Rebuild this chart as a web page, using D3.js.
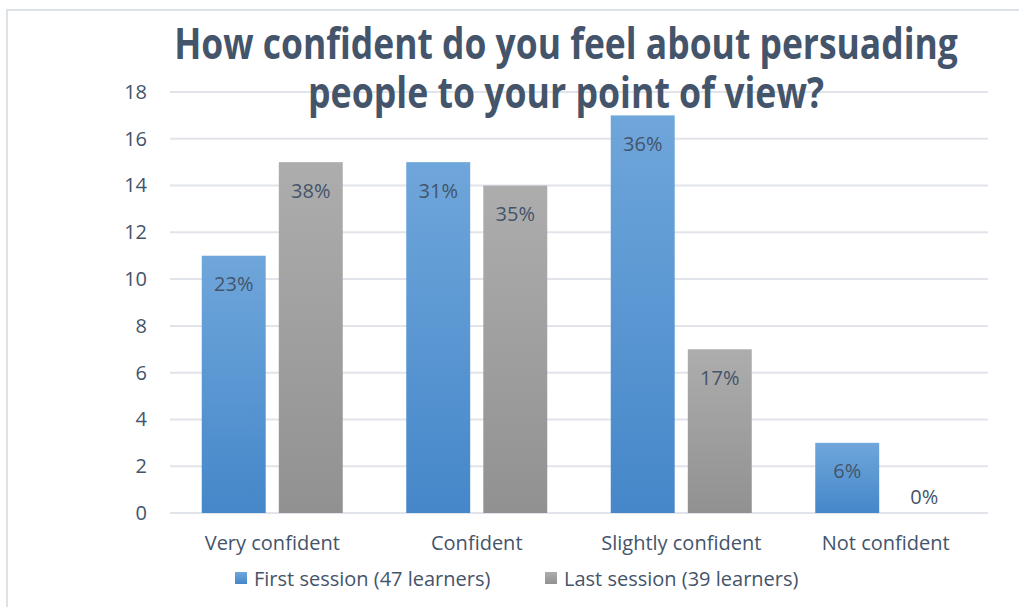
<!DOCTYPE html>
<html>
<head>
<meta charset="utf-8">
<script src="https://cdn.jsdelivr.net/npm/d3@7"></script>
<style>
  html, body { margin: 0; padding: 0; background: #fff; }
  svg { display: block; }
  text { font-family: "Open Sans", "Noto Sans", sans-serif; fill: #44546A; }
</style>
</head>
<body>
<svg id="chart" width="1019" height="607"></svg>
<script>
// Survey answers, counted per session
const categories = ["Very confident", "Confident", "Slightly confident", "Not confident"];
const seriesNames = ["First session (47 learners)", "Last session (39 learners)"];
const firstSession = [11, 15, 17, 3];
const lastSession = [15, 14, 7, 0];
const firstPercent = ["23%", "31%", "36%", "6%"];
const lastPercent = ["38%", "35%", "17%", "0%"];
const yTicks = [0, 2, 4, 6, 8, 10, 12, 14, 16, 18];
const titleLines = ["How confident do you feel about persuading", "people to your point of view?"];

const svg = d3.select("#chart");
const W = 1019, H = 607;
const plot = { left: 170, right: 988, top: 92, bottom: 513 };
const labelSize = 20;

// Outer chart border (light frame)
svg.append("path")
  .attr("d", `M7,${H} L7,10 L${W},10`)
  .attr("fill", "none")
  .attr("stroke", "#dde1e8")
  .attr("stroke-width", 2);

// Gradients for the bar fills
const defs = svg.append("defs");
const gradBlue = defs.append("linearGradient").attr("id", "gBlue")
  .attr("x1", 0).attr("y1", 0).attr("x2", 0).attr("y2", 1);
gradBlue.append("stop").attr("offset", "0%").attr("stop-color", "#6fa6db");
gradBlue.append("stop").attr("offset", "100%").attr("stop-color", "#4587c9");
const gradGray = defs.append("linearGradient").attr("id", "gGray")
  .attr("x1", 0).attr("y1", 0).attr("x2", 0).attr("y2", 1);
gradGray.append("stop").attr("offset", "0%").attr("stop-color", "#adadad");
gradGray.append("stop").attr("offset", "100%").attr("stop-color", "#919191");
const fills = ["url(#gBlue)", "url(#gGray)"];

const x = d3.scaleBand().domain(categories).range([plot.left, plot.right]);
const x1 = d3.scaleBand().domain([0, 1]).range([-70.5, 70.5]).paddingInner(0.17);
const y = d3.scaleLinear().domain([0, 18]).range([plot.bottom, plot.top]);

// Horizontal gridlines
svg.append("g").selectAll("line").data(yTicks).join("line")
  .attr("x1", plot.left).attr("x2", plot.right)
  .attr("y1", d => y(d)).attr("y2", d => y(d))
  .attr("stroke", "#e1e4ea").attr("stroke-width", 2);

// Y axis labels
const yAxis = d3.axisLeft(y).tickValues(yTicks).tickSize(0).tickPadding(0);
const yg = svg.append("g").attr("transform", `translate(147,0)`).call(yAxis);
yg.select(".domain").remove();
yg.selectAll("text").attr("font-size", labelSize).attr("fill", "#44546A")
  .style("font-family", '"Open Sans", sans-serif');

// X axis labels
const xAxis = d3.axisBottom(x).tickSize(0).tickPadding(0);
const xg = svg.append("g").attr("transform", `translate(0,${plot.bottom + 23})`).call(xAxis);
xg.select(".domain").remove();
xg.selectAll("text").attr("font-size", labelSize).attr("fill", "#44546A")
  .style("font-family", '"Open Sans", sans-serif');

// Bars
const rows = categories.map((c, i) => ({
  cat: c,
  vals: [
    { s: 0, v: firstSession[i], lab: firstPercent[i] },
    { s: 1, v: lastSession[i], lab: lastPercent[i] }
  ]
}));

const groups = svg.append("g").selectAll("g").data(rows).join("g")
  .attr("transform", d => `translate(${x(d.cat) + x.bandwidth() / 2},0)`);

groups.selectAll("rect").data(d => d.vals).join("rect")
  .attr("x", d => x1(d.s))
  .attr("width", x1.bandwidth())
  .attr("y", d => y(d.v))
  .attr("height", d => plot.bottom - y(d.v))
  .attr("fill", d => fills[d.s]);

// Data labels inside the bar ends
groups.selectAll("text.lab").data(d => d.vals).join("text")
  .attr("class", "lab")
  .attr("x", d => x1(d.s) + x1.bandwidth() / 2)
  .attr("y", d => d.v > 0 ? y(d.v) + 28 : y(d.v) - 17)
  .attr("text-anchor", "middle")
  .attr("dominant-baseline", "central")
  .attr("font-size", labelSize)
  .text(d => d.lab);

// Title: bold, horizontally condensed to fit its line widths
const titleY = [43, 92];
const titleW = [784, 516];
titleLines.forEach((t, i) => {
  const g = svg.append("g");
  const txt = g.append("text")
    .attr("x", 0)
    .attr("y", 0)
    .attr("text-anchor", "middle")
    .attr("dominant-baseline", "central")
    .attr("font-size", 43)
    .attr("font-weight", "bold")
    .style("font-family", '"Open Sans", sans-serif')
    .text(t);
  const natural = txt.node().getComputedTextLength();
  g.attr("transform", `translate(566,${titleY[i]}) scale(${titleW[i] / natural},1)`);
});

// Legend
const legendX = [235, 545];
const legend = svg.append("g").selectAll("g").data(seriesNames).join("g")
  .attr("transform", (d, i) => `translate(${legendX[i]},578)`);
legend.append("rect")
  .attr("x", 0).attr("y", -6).attr("width", 12).attr("height", 12)
  .attr("fill", (d, i) => fills[i]);
legend.append("text")
  .attr("x", 19).attr("y", 0)
  .attr("dominant-baseline", "central")
  .attr("font-size", labelSize)
  .text(d => d);
</script>
</body>
</html>
